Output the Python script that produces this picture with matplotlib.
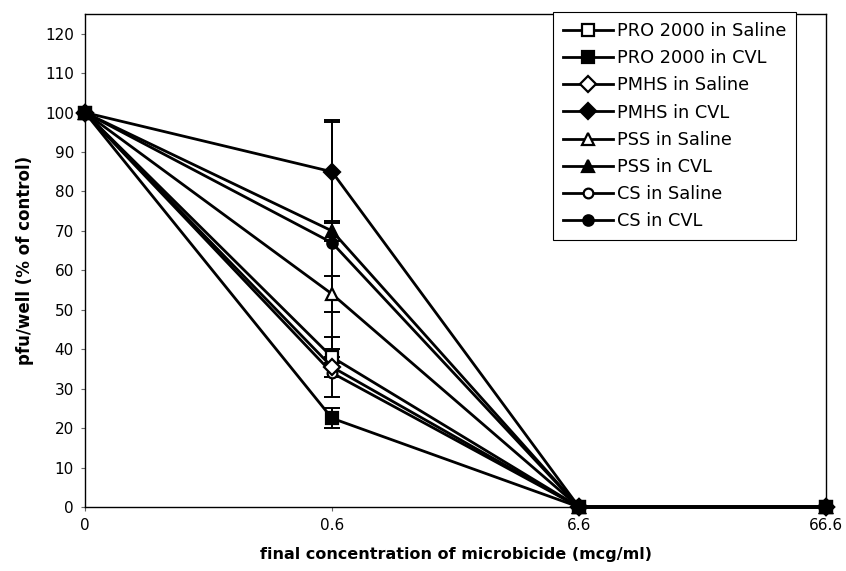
import matplotlib
matplotlib.use("Agg")
import matplotlib.pyplot as plt
import numpy as np

categories = ["0", "0.6", "6.6", "66.6"]
series_names = ["PRO 2000 in Saline", "PRO 2000 in CVL", "PMHS in Saline", "PMHS in CVL",
                "PSS in Saline", "PSS in CVL", "CS in Saline", "CS in CVL"]
pro_saline = [100, 38, 0, 0]
pro_cvl = [100, 22.5, 0, 0]
pmhs_saline = [100, 35.5, 0, 0]
pmhs_cvl = [100, 85, 0, 0]
pss_saline = [100, 54, 0, 0]
pss_cvl = [100, 70, 0, 0]
cs_saline = [100, 34, 0, 0]
cs_cvl = [100, 67, 0, 0]
err_pro_saline = [0, 5, 0, 0]
err_pro_cvl = [0, 2.5, 0, 0]
err_pmhs_saline = [0, 2.5, 0, 0]
err_pmhs_cvl = [0, 13, 0, 0]
err_pss_saline = [0, 4.5, 0, 0]
err_pss_cvl = [0, 2.5, 0, 0]
err_cs_saline = [0, 6, 0, 0]
err_cs_cvl = [0, 30.5, 0, 0]

values = [pro_saline, pro_cvl, pmhs_saline, pmhs_cvl, pss_saline, pss_cvl, cs_saline, cs_cvl]
errors = [err_pro_saline, err_pro_cvl, err_pmhs_saline, err_pmhs_cvl,
          err_pss_saline, err_pss_cvl, err_cs_saline, err_cs_cvl]
markers = ["s", "s", "D", "D", "^", "^", "o", "o"]
filled = [False, True, False, True, False, True, False, True]
msizes = [9, 9, 8, 8.5, 9, 9, 7, 7.5]
zorders = [5, 12, 6, 7, 8, 9, 4, 10]

plt.rcParams['font.family'] = ['DejaVu Sans']
fig = plt.figure(figsize=(8.46, 5.71), dpi=100)
ax = fig.add_axes([85/846, 1-507/571, (826-85)/846, (507-14)/571])

x = np.arange(len(categories))
handles = []
for name, v, e, m, f, ms, z in zip(series_names, values, errors, markers, filled, msizes, zorders):
    ax.errorbar(x, v, yerr=e, fmt='none', ecolor='black', elinewidth=1.4,
                capsize=6, capthick=1.4, zorder=2)
    h, = ax.plot(x, v, color='black', lw=2.0, marker=m, markersize=ms,
                 markerfacecolor='black' if f else 'white', markeredgecolor='black',
                 markeredgewidth=1.6, label=name, zorder=z, clip_on=False)
    handles.append(h)

ax.set_xlim(0, 3)
ax.set_ylim(0, 125)
ax.set_yticks(np.arange(0, 121, 10))
ax.set_xticks(x)
ax.set_xticklabels(categories)
ax.tick_params(axis='both', direction='out', length=3, width=0.8, color='#666666',
               labelsize=11, pad=5)
for s in ax.spines.values():
    s.set_linewidth(1.0)
    s.set_color('black')

ax.set_ylabel("pfu/well (% of control)", fontsize=12, fontweight='bold', labelpad=8)
ax.set_xlabel("final concentration of microbicide (mcg/ml)", fontsize=11.5,
              fontweight='bold', labelpad=10)

leg = ax.legend(handles=handles, loc='upper left', bbox_to_anchor=(553/846, 1-12/571),
                bbox_transform=fig.transFigure, borderaxespad=0, fontsize=12.8,
                frameon=True, fancybox=False, edgecolor='black', framealpha=1,
                handlelength=2.8, handletextpad=0.25, labelspacing=0.52, borderpad=0.55)
leg.get_frame().set_linewidth(0.8)
leg.set_zorder(20)

fig.savefig("out.png", dpi=100)
